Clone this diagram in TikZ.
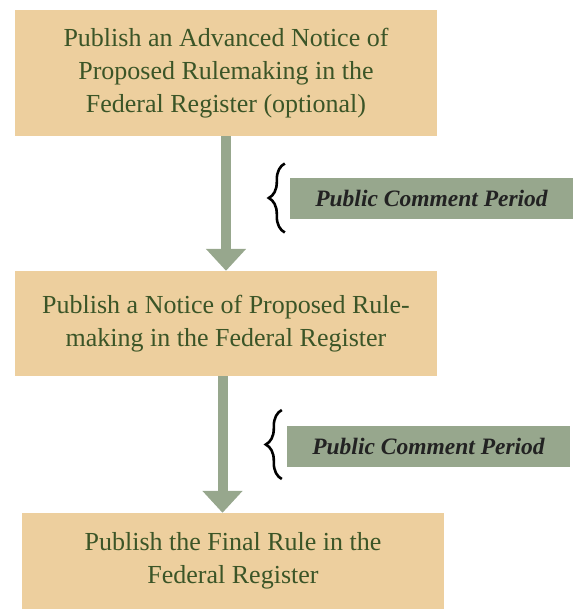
\documentclass[tikz,border=0pt]{standalone}
\usepackage{fontspec}
\setmainfont{Liberation Serif}
\usetikzlibrary{arrows.meta,decorations.pathreplacing}
\definecolor{boxtan}{HTML}{EDCF9E}
\definecolor{flowgreen}{HTML}{97A78D}
\definecolor{textgreen}{HTML}{3B5527}
\definecolor{inkdark}{HTML}{222222}
\begin{document}
\begin{tikzpicture}
  [x=1pt,y=-1pt,
   stepbox/.style={fill=boxtan,inner sep=0pt,minimum width=422pt,align=center,
     text=textgreen,font=\fontsize{26}{33}\selectfont},
   comment/.style={fill=flowgreen,inner sep=0pt,minimum width=283pt,minimum height=41pt,
     text=inkdark,font=\fontsize{23.5}{26}\selectfont\bfseries\itshape},
   flow/.style={draw=flowgreen,line width=10pt,-{Triangle[width=39pt,length=22pt]},
     flowgreen},
   cbrace/.style={draw=black,line width=2.6pt,decorate,
     decoration={brace,amplitude=16pt}}]
  \useasboundingbox (0,0) rectangle (576,609);
  \node[stepbox,minimum height=126pt] (b1) at (226,73)
    {Publish an Advanced Notice of\\Proposed Rulemaking in the\\Federal Register (optional)};
  \node[stepbox,minimum height=105pt] (b2) at (226,323.5)
    {Publish a Notice of Proposed Rule-\\making in the Federal Register};
  \node[stepbox,minimum height=96pt] (b3) at (233,561)
    {Publish the Final Rule in the\\Federal Register};
  \node[comment] (c1) at (431.5,198.5) {Public Comment Period};
  \node[comment] (c2) at (428.5,446) {Public Comment Period};
  % arrows between the steps
  \draw[flow] (b1.south) -- (b2.north);
  \draw[flow] ([xshift=-3.5pt]b2.south) -- ([xshift=-3.5pt]b2.south |- b3.north);
  % braces for the comment periods
  \draw[cbrace] ([xshift=-5pt,yshift=-34pt]c1.west) -- ([xshift=-5pt,yshift=35pt]c1.west);
  \draw[cbrace] ([xshift=-5pt,yshift=-33pt]c2.west) -- ([xshift=-5pt,yshift=36pt]c2.west);
\end{tikzpicture}
\end{document}
